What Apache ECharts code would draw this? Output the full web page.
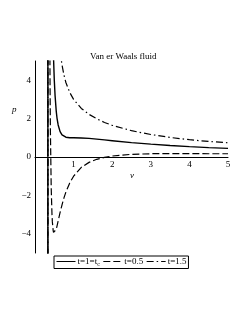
<!DOCTYPE html>
<html>
<head>
<meta charset="utf-8">
<script src="https://cdn.jsdelivr.net/npm/echarts@6/dist/echarts.min.js"></script>
<style>html,body{margin:0;padding:0;background:#fff}#c{width:249px;height:323px}</style>
</head>
<body>
<div id="c"></div>
<script>
const vValues = [0.2, 0.3, 0.333, 0.334, 0.36, 0.38, 0.39, 0.4, 0.42, 0.44, 0.45, 0.47, 0.48, 0.5, 0.52, 0.55, 0.57, 0.6, 0.65, 0.7, 0.75, 0.8, 0.9, 1, 1.2, 1.4, 1.6, 1.8, 2, 2.5, 3, 3.5, 4, 4.5, 5];
const pCritical = [-95, -113, -200, 200, 77, 36.3, 27.3, 21.25, 13.8, 9.5, 8.05, 5.93, 5.16, 4.0, 3.2, 2.39, 2.03, 1.67, 1.32, 1.15, 1.07, 1.03, 1.0, 1.0, 0.99, 0.97, 0.93, 0.89, 0.85, 0.75, 0.67, 0.6, 0.54, 0.49, 0.45];
const pLow = [-85, -73, -200, 200, 26.9, 7.8, 3.8, 1.25, -1.62, -3.0, -3.38, -3.82, -3.93, -4.0, -3.95, -3.77, -3.6, -3.33, -2.89, -2.49, -2.13, -1.83, -1.35, -1.0, -0.54, -0.28, -0.12, -0.02, 0.05, 0.14, 0.17, 0.18, 0.18, 0.17, 0.17];
const pHigh = [-105, -153, -200, 200, 127, 64.9, 50.9, 41.25, 29.1, 22.0, 19.47, 15.7, 14.3, 12.0, 10.3, 8.54, 7.67, 6.67, 5.53, 4.79, 4.27, 3.88, 3.36, 3.0, 2.53, 2.22, 1.99, 1.80, 1.65, 1.37, 1.17, 1.02, 0.90, 0.81, 0.74];
const seriesNames = ['t=1=t_c', 't=0.5', 't=1.5'];
const titleText = 'Van er Waals fluid';
const xTicks = [1, 2, 3, 4, 5];
const yTicks = [-4, -2, 0, 2, 4];

const font = 'Liberation Serif, Times New Roman, serif';
const pair = arr => vValues.map((v, i) => [v, arr[i]]);
const styles = [
  {type: 'solid', width: 1.4},
  {type: [7, 3], width: 1.2},
  {type: [7, 3, 1.5, 3], width: 1.2}
];
const datasets = [pCritical, pLow, pHigh];

const chart = echarts.init(document.getElementById('c'), null, {renderer: 'canvas'});
chart.setOption({
  animation: false,
  backgroundColor: '#fff',
  title: {
    text: titleText, left: 90, top: 52, padding: 0,
    textStyle: {fontFamily: font, fontSize: 9, fontWeight: 'normal', color: '#000'}
  },
  grid: {left: 35, top: 61, width: 193, height: 192, containLabel: false},
  xAxis: {
    type: 'value', min: 0, max: 5, interval: 1,
    offset: -96,
    axisLine: {onZero: false, lineStyle: {color: '#000', width: 1}},
    axisTick: {show: false},
    splitLine: {show: false},
    axisLabel: {
      margin: 3, fontFamily: font, fontSize: 9, color: '#000',
      formatter: v => xTicks.indexOf(v) >= 0 ? String(v) : ''
    }
  },
  yAxis: {
    type: 'value', min: -5, max: 5, interval: 1,
    axisLine: {show: true, onZero: false, lineStyle: {color: '#000', width: 1}},
    axisTick: {show: false},
    splitLine: {show: false},
    axisLabel: {
      margin: 4, fontFamily: font, fontSize: 9, color: '#000',
      formatter: v => yTicks.indexOf(v) >= 0 ? (v < 0 ? '\u2212' + (-v) : String(v)) : ''
    }
  },
  legend: {
    left: 54, top: 256, orient: 'horizontal',
    data: seriesNames,
    itemWidth: 19, itemHeight: 8, itemGap: 3,
    padding: [1, 2, 1, 2],
    borderColor: '#000', borderWidth: 1,
    itemStyle: {opacity: 0},
    lineStyle: {width: 1},
    formatter: n => n === 't=1=t_c' ? '{a|t=1=t}{s|c}' : '{a|' + n + '}',
    textStyle: {
      color: '#000', fontFamily: font, fontSize: 9, padding: [0, 0, 0, -3],
      rich: {
        a: {fontFamily: font, fontSize: 9, color: '#000', lineHeight: 12},
        s: {fontFamily: font, fontSize: 6, color: '#000', lineHeight: 12, verticalAlign: 'bottom', padding: [4, 0, 0, 0]}
      }
    }
  },
  graphic: [
    {type: 'text', left: 12, top: 105, style: {text: 'p', font: 'italic 9px ' + font, fill: '#000'}},
    {type: 'text', left: 130, top: 171, style: {text: 'v', font: 'italic 9px ' + font, fill: '#000'}}
  ],
  series: datasets.map((d, i) => ({
    name: seriesNames[i],
    type: 'line',
    data: pair(d),
    showSymbol: false,
    symbol: 'none',
    clip: true,
    lineStyle: {color: '#000', width: styles[i].width, type: styles[i].type},
    itemStyle: {color: '#000'}
  }))
});
</script>
</body>
</html>
